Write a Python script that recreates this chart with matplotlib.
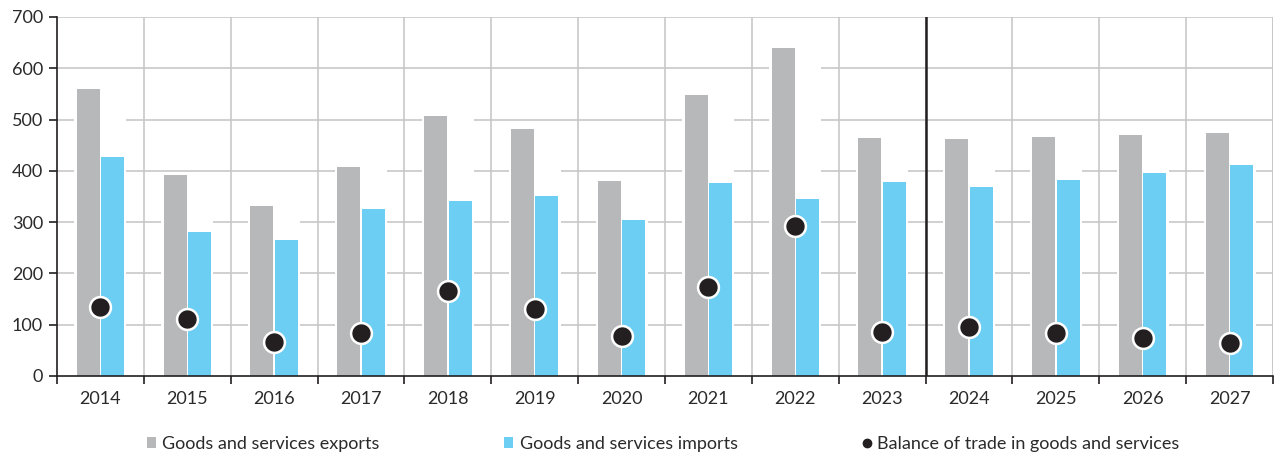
import numpy as np
import matplotlib
matplotlib.use("Agg")
import matplotlib.pyplot as plt
from matplotlib.lines import Line2D
from matplotlib.patches import Patch

years = ["2014", "2015", "2016", "2017", "2018", "2019", "2020",
         "2021", "2022", "2023", "2024", "2025", "2026", "2027"]
exports = [560, 392, 331, 408, 507, 481, 380, 548, 639, 465, 463, 466, 470, 474]
imports = [427, 280, 265, 326, 342, 351, 304, 376, 346, 379, 368, 383, 395, 411]
balance = [134, 111, 66, 84, 165, 130, 78, 174, 293, 86, 95, 84, 75, 65]

GRAY = "#b7b8ba"
BLUE = "#6ccef3"
DOT = "#231f20"
GRID = "#c8c8c8"
TXT = "#2a2a2a"

plt.rcParams["font.family"] = ["Lato", "DejaVu Sans"]

fig = plt.figure(figsize=(12.78, 4.59), dpi=100)
ax = fig.add_axes([57 / 1278, 1 - 376 / 459, (1273 - 57) / 1278, (376 - 17) / 459])

x = np.arange(len(years))
w = 0.265
# white underlay to break the gridlines around bars
ax.bar(x, np.maximum(exports, imports), width=0.6, color="white", zorder=2)
ax.bar(x - 0.14, exports, width=w, color=GRAY, zorder=3)
ax.bar(x + 0.14, imports, width=w, color=BLUE, zorder=3)
ax.plot(x, balance, "o", ms=15, color=DOT, markeredgecolor="white",
        markeredgewidth=1.8, zorder=4)

ax.set_xlim(-0.5, len(years) - 0.5)
ax.set_ylim(0, 700)
ax.set_yticks(range(0, 701, 100))
ax.set_xticks(x)
ax.set_xticklabels(years)
ax.set_xticks(np.arange(-0.5, len(years), 1), minor=True)

for yv in range(100, 701, 100):
    ax.axhline(yv, color=GRID, lw=1.2, zorder=1)
for xv in np.arange(0.5, len(years), 1):
    ax.axvline(xv, color=GRID, lw=1.2, zorder=1)
ax.axvline(len(years) - 0.5, color=GRID, lw=1.2, zorder=1)
ax.axvline(9.5, color=DOT, lw=1.8, zorder=5)

for s in ["top", "right"]:
    ax.spines[s].set_visible(False)
for s in ["left", "bottom"]:
    ax.spines[s].set_color(DOT)
    ax.spines[s].set_linewidth(1.2)
    ax.spines[s].set_zorder(6)

ax.tick_params(axis="x", which="major", length=0, pad=11, labelsize=13, colors=TXT)
ax.tick_params(axis="x", which="minor", length=6, width=1.2, color=DOT)
ax.tick_params(axis="y", length=6, width=1.2, color=DOT, labelsize=13, labelcolor=TXT, pad=4)

handles = [
    Patch(facecolor=GRAY, edgecolor="none"),
    Patch(facecolor=BLUE, edgecolor="none"),
    Line2D([], [], marker="o", ls="none", ms=6, color=DOT),
]
labels = ["Goods and services exports", "Goods and services imports",
          "Balance of trade in goods and services"]
fig.legend(handles, labels, loc="center", bbox_to_anchor=(0.519, 0.033), ncol=3,
           frameon=False, fontsize=13, handlelength=0.5, handleheight=0.5,
           handletextpad=0.35, columnspacing=6.9, labelcolor=TXT)

fig.savefig("out.png", dpi=100)
